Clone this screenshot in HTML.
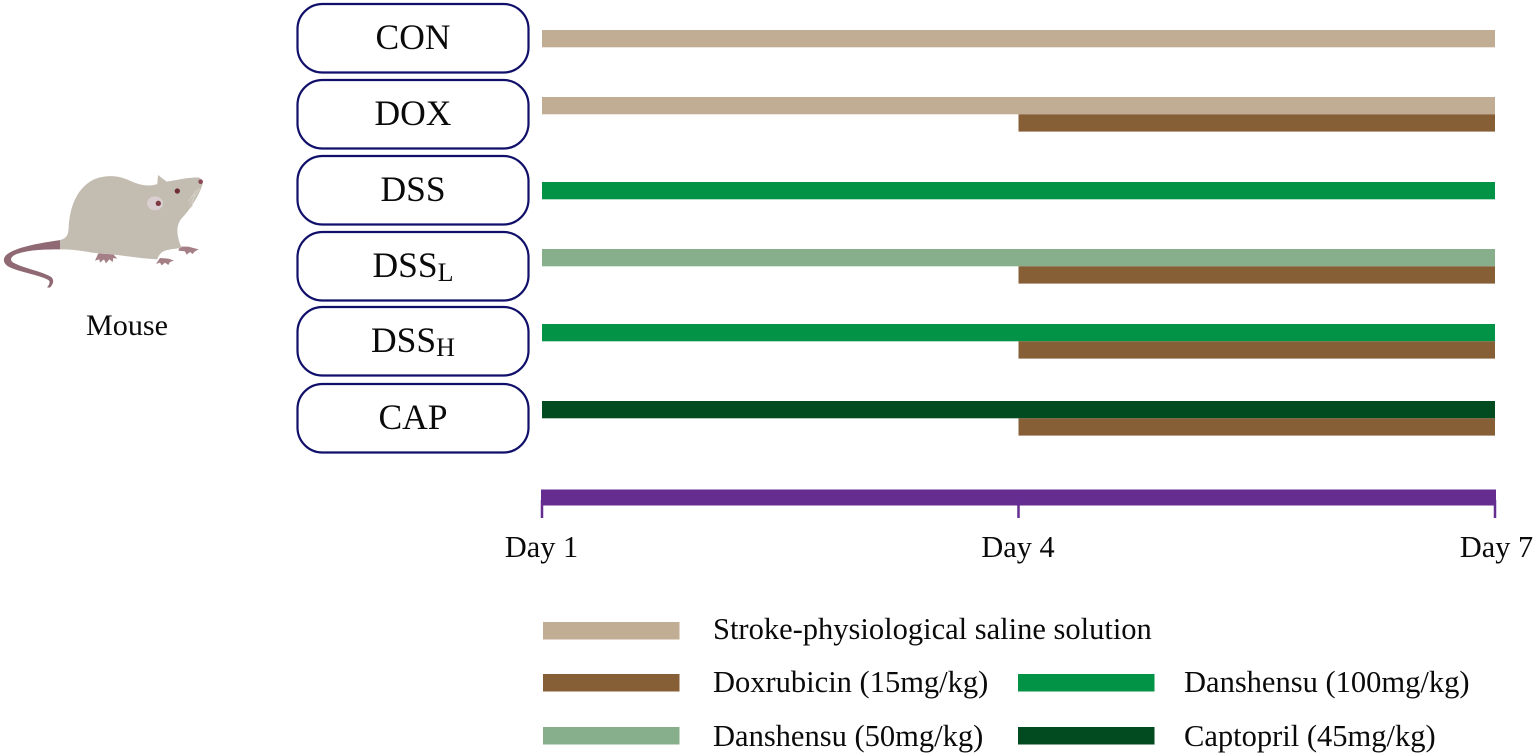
<!DOCTYPE html>
<html lang="en">
<head>
<meta charset="utf-8">
<title>Experimental timeline</title>
<style>
html,body{margin:0;padding:0;background:#fff;width:1535px;height:755px;overflow:hidden}
svg{display:block}
text{font-family:"Liberation Serif",serif;fill:#0a0a0a}
</style>
</head>
<body>
<svg id="chart" xmlns="http://www.w3.org/2000/svg" width="1535" height="755" viewBox="0 0 1535 755">
  <g id="mouse" transform="translate(0,160) scale(0.3333)">
    <path fill="#8f6a74" d="M182,240 C130,248 60,258 25,280 C5,293 8,312 30,322 C65,338 120,345 145,360 C152,365 148,375 141,382 L150,383 C160,372 163,362 155,352 C130,335 70,325 40,308 C28,300 32,290 50,282 C90,268 140,268 182,268 Z"/>
    <path fill="#a57f86" d="M540,260 L565,260 L596,268 L585,274 L578,282 L570,276 L560,284 L555,274 L535,272 Z"/>
    <path fill="#a57f86" d="M295,280 L340,283 L352,296 L340,294 L338,306 L328,298 L318,310 L312,298 L300,308 L298,298 L285,302 Z"/>
    <path fill="#a57f86" d="M480,294 L505,296 L522,302 L510,306 L505,315 L495,308 L485,316 L480,308 L468,312 Z"/>
    <path fill="#c3bcb1" d="M180,240 C198,236 205,225 206,205 C208,150 225,95 270,65 C300,46 345,42 385,60 C415,74 445,82 472,72 L474,45 L500,65 C530,60 565,52 595,52 C606,56 611,66 606,78 C595,110 570,150 545,175 C528,195 528,225 545,264 C525,266 505,268 490,274 C480,280 474,290 472,298 C420,295 380,288 350,285 C320,280 290,282 260,275 C230,270 205,268 180,268 Z"/>
    <ellipse cx="465" cy="130" rx="24" ry="21" fill="#d9cfd0"/>
    <circle cx="475" cy="130" r="8" fill="#7d3a42"/>
    <circle cx="532" cy="93" r="8" fill="#6e2c36"/>
    <circle cx="602" cy="65" r="7" fill="#8b4a58"/>
    <path fill="none" stroke="#dcd8d0" stroke-width="2" d="M600,85 L568,135 M592,88 L565,125 M585,95 L575,145"/>
  </g>
  <text x="127" y="335" font-size="30" text-anchor="middle" textLength="82" lengthAdjust="spacingAndGlyphs">Mouse</text>
  <g id="groups"></g>
  <g id="bars"></g>
  <g id="axis"></g>
  <g id="legend"></g>
</svg>
<script>
// Groups and their boxes' vertical order
const groupLabels = ['CON', 'DOX', 'DSS', 'DSS', 'DSS', 'CAP'];
const groupSubscripts = ['', '', '', 'L', 'H', ''];
// Treatment names
const tSaline = 'saline', tDox = 'dox', tHigh = 'dss100', tLow = 'dss50', tCap = 'cap';
const treatmentColors = {saline:'#c1ad94', dox:'#875f37', dss100:'#029346', dss50:'#88af8b', cap:'#024a20'};
// Treatment periods per group: [treatment, start day, end day]
const schedule = [
  [[tSaline, 1, 7]],
  [[tSaline, 1, 7], [tDox, 4, 7]],
  [[tHigh, 1, 7]],
  [[tLow, 1, 7], [tDox, 4, 7]],
  [[tHigh, 1, 7], [tDox, 4, 7]],
  [[tCap, 1, 7], [tDox, 4, 7]]
];
const axisDays = [1, 4, 7];
const legendNames = ['Stroke-physiological saline solution', 'Doxrubicin (15mg/kg)', 'Danshensu (100mg/kg)', 'Danshensu (50mg/kg)', 'Captopril (45mg/kg)'];
const legendKeys = [tSaline, tDox, tHigh, tLow, tCap];

const NS = 'http://www.w3.org/2000/svg';
function make(tag, parent, attrs, text) {
  const el = document.createElementNS(NS, tag);
  for (const k in attrs) el.setAttribute(k, attrs[k]);
  if (text !== undefined) el.textContent = text;
  parent.appendChild(el);
  return el;
}
// Axis function: day to x pixel
const xDay = d => 542 + (d - 1) * (1495 - 542) / 6;
// Row layout
const boxTop = i => [4, 80, 156, 232, 307, 384][i];
const boxH = 68.5;
const barTop = i => [30, 97, 182, 249, 324, 401][i];
const barH = 17;

const gGroups = document.getElementById('groups');
groupLabels.forEach((label, i) => {
  const box = make('rect', gGroups, {x:297.5, y:boxTop(i), width:231, height:boxH, rx:25, ry:25, fill:'#fff', stroke:'#10106a', 'stroke-width':2.2});
  
  
  const t = make('text', gGroups, {x:413, y:boxTop(i) + 45, 'font-size':35.5, 'text-anchor':'middle'}, label);
  
  
  if (groupSubscripts[i]) {
    const s = make('tspan', t, {'font-size':26, dy:4}, groupSubscripts[i]);
    
    
  }
});

const gBars = document.getElementById('bars');
schedule.forEach((periods, i) => {
  periods.forEach((p, j) => {
    const r = make('rect', gBars, {x:xDay(p[1]), y:barTop(i) + j * (barH + 0.3), width:xDay(p[2]) - xDay(p[1]), height:barH + 0.3, fill:treatmentColors[p[0]]});
    
    
  });
});

const gAxis = document.getElementById('axis');
const axisBar = make('rect', gAxis, {x:xDay(axisDays[0]) - 1, y:489.5, width:xDay(axisDays[axisDays.length - 1]) - xDay(axisDays[0]) + 2, height:16, fill:'#652d90'});


axisDays.forEach((d, i) => {
  const tick = make('line', gAxis, {x1:xDay(d), x2:xDay(d), y1:500, y2:518, stroke:'#652d90', 'stroke-width':2.5});
  
  
  const lab = make('text', gAxis, {x:xDay(d) + (i === axisDays.length - 1 ? 1.5 : -0.5), y:557, 'font-size':30.3, 'text-anchor':'middle'}, 'Day ' + d);
  
  
});

const gLegend = document.getElementById('legend');
const legendRow = [0, 1, 1, 2, 2];
const legendCol = [0, 0, 1, 0, 1];
const legendY = [622, 674, 727];
const legendSwatchX = [543, 1018];
const legendTextX = [713, 1184];
const legendBase = [639, 692, 746];
legendNames.forEach((name, i) => {
  const r = legendRow[i], c = legendCol[i];
  const sw = make('rect', gLegend, {x:legendSwatchX[c], y:legendY[r], width:136.5, height:17.5, fill:treatmentColors[legendKeys[i]]});
  
  
  const t = make('text', gLegend, {x:legendTextX[c], y:legendBase[r], 'font-size':30.5}, name);
  
  
});
</script>
</body>
</html>
